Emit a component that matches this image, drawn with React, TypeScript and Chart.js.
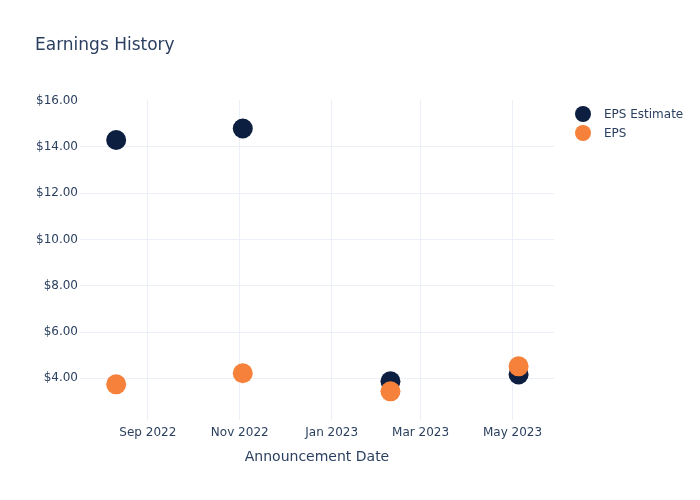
import React, { useEffect, useRef } from "react";
import { Chart, registerables } from "chart.js";

Chart.register(...registerables);

const announcementDates = ["2022-08-11", "2022-11-03", "2023-02-09", "2023-05-05"];
const epsEstimate = [14.3, 14.8, 3.87, 4.17];
const epsActual = [3.74, 4.22, 3.44, 4.52];
const xTickDates = ["2022-09-01", "2022-11-01", "2023-01-01", "2023-03-01", "2023-05-01"];
const yTickValues = [4, 6, 8, 10, 12, 14, 16];
const MONTHS = ["Jan", "Feb", "Mar", "Apr", "May", "Jun", "Jul", "Aug", "Sep", "Oct", "Nov", "Dec"];

const toMs = (s: string) => {
  const [y, m, d] = s.split("-").map(Number);
  return Date.UTC(y, m - 1, d);
};

const FONT = "'DejaVu Sans', sans-serif";
const TEXT = "#2a3f5f";
const GRID = "#ebf0f8";
const NAVY = "#0c1f40";
const ORANGE = "#f6813a";

const overlayPlugin = {
  id: "overlay",
  afterDraw(chart: any) {
    const ctx = chart.ctx;
    ctx.save();
    ctx.fillStyle = TEXT;
    ctx.font = `17px ${FONT}`;
    ctx.textAlign = "left";
    ctx.textBaseline = "middle";
    ctx.fillText("Earnings History", 35, 46);
    const items = [
      { label: "EPS Estimate", color: NAVY, y: 114 },
      { label: "EPS", color: ORANGE, y: 133 },
    ];
    ctx.font = `12px ${FONT}`;
    for (const it of items) {
      ctx.beginPath();
      ctx.arc(583, it.y, 8, 0, Math.PI * 2);
      ctx.fillStyle = it.color;
      ctx.fill();
      ctx.fillStyle = TEXT;
      ctx.fillText(it.label, 604, it.y + 1);
    }
    ctx.restore();
  },
};

export default function App() {
  const ref = useRef<HTMLCanvasElement>(null);
  useEffect(() => {
    document.body.style.margin = "0";
    const xs = announcementDates.map(toMs);
    const chart = new Chart(ref.current!, {
      type: "scatter",
      data: {
        datasets: [
          {
            label: "EPS Estimate",
            data: xs.map((x, i) => ({ x, y: epsEstimate[i] })),
            backgroundColor: NAVY,
            borderColor: NAVY,
            pointRadius: 10,
            pointHoverRadius: 10,
            borderWidth: 0,
            order: 1,
          },
          {
            label: "EPS",
            data: xs.map((x, i) => ({ x, y: epsActual[i] })),
            backgroundColor: ORANGE,
            borderColor: ORANGE,
            pointRadius: 10,
            pointHoverRadius: 10,
            borderWidth: 0,
            order: 0,
          },
        ],
      },
      options: {
        animation: false,
        responsive: false,
        maintainAspectRatio: false,
        layout: { padding: { left: 0, top: 100, right: 146, bottom: 0 } },
        plugins: { legend: { display: false }, tooltip: { enabled: false } },
        scales: {
          x: {
            type: "linear",
            min: Date.UTC(2022, 6, 18),
            max: Date.UTC(2023, 4, 28, 12),
            afterBuildTicks: (scale: any) => {
              scale.ticks = xTickDates.map((d) => ({ value: toMs(d) }));
            },
            afterFit: (scale: any) => {
              scale.height = 80;
            },
            ticks: {
              color: TEXT,
              font: { family: FONT, size: 12 },
              padding: 6,
              maxRotation: 0,
              autoSkip: false,
              callback: (v: any) => {
                const d = new Date(v);
                return `${MONTHS[d.getUTCMonth()]} ${d.getUTCFullYear()}`;
              },
            },
            grid: { color: GRID, drawTicks: false },
            border: { display: false },
            title: {
              display: true,
              text: "Announcement Date",
              color: TEXT,
              font: { family: FONT, size: 14 },
              padding: { top: 0, bottom: 34 },
            },
          },
          y: {
            type: "linear",
            min: 2.2,
            max: 16.03,
            afterBuildTicks: (scale: any) => {
              scale.ticks = yTickValues.map((v) => ({ value: v }));
            },
            afterFit: (scale: any) => {
              scale.width = 80;
            },
            ticks: {
              color: TEXT,
              font: { family: FONT, size: 12 },
              padding: 2,
              callback: (v: any) => `$${Number(v).toFixed(2)}`,
            },
            grid: {
              color: (c: any) => (c.tick && c.tick.value >= 16 ? "rgba(0,0,0,0)" : GRID),
              drawTicks: false,
            },
            border: { display: false },
          },
        },
      },
      plugins: [overlayPlugin],
    } as any);
    return () => chart.destroy();
  }, []);
  return (
    <div style={{ position: "fixed", left: 0, top: 0, width: 700, height: 500, background: "#fff" }}>
      <canvas ref={ref} width={700} height={500} style={{ display: "block" }} />
    </div>
  );
}
